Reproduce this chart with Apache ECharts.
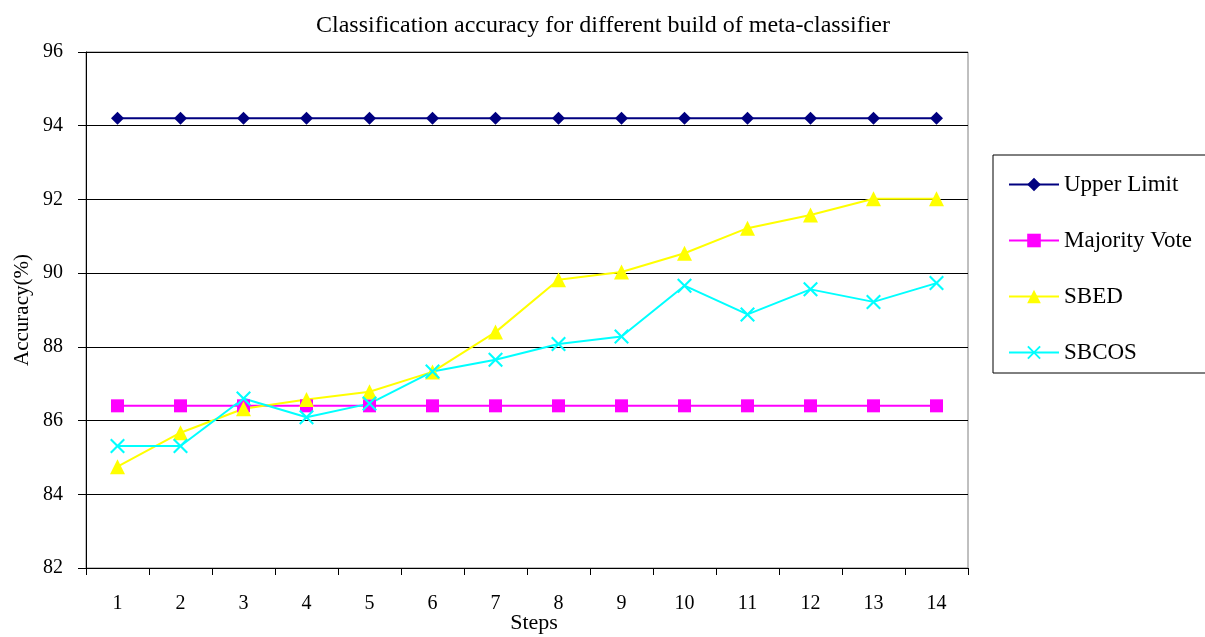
<!DOCTYPE html>
<html><head><meta charset="utf-8">
<script src="https://cdn.jsdelivr.net/npm/echarts@6/dist/echarts.min.js"></script>
<style>html,body{margin:0;padding:0;background:#fff}#c{width:1205px;height:637px}</style>
</head><body><div id="c"></div>
<script>
const steps = ['1','2','3','4','5','6','7','8','9','10','11','12','13','14'];
const upperLimit = [94.2,94.2,94.2,94.2,94.2,94.2,94.2,94.2,94.2,94.2,94.2,94.2,94.2,94.2];
const majorityVote = [86.4,86.4,86.4,86.4,86.4,86.4,86.4,86.4,86.4,86.4,86.4,86.4,86.4,86.4];
const sbed = [84.75,85.67,86.32,86.57,86.78,87.32,88.4,89.82,90.03,90.54,91.22,91.58,92.02,92.02];
const sbcos = [85.31,85.31,86.6,86.09,86.46,87.33,87.65,88.08,88.28,89.66,88.88,89.56,89.22,89.73];

const F = 'Liberation Serif, Times New Roman, serif';
const X_PATH = 'path://M1,0 L5,4 L9,0 L10,1 L6,5 L10,9 L9,10 L5,6 L1,10 L0,9 L4,5 L0,1 Z';
const chart = echarts.init(document.getElementById('c'), null, {renderer:'canvas'});
function mk(name, data, color, symbol, size){
  return {name, type:'line', data, symbol, symbolSize:size, showAllSymbol:true,
    lineStyle:{color, width:2}, itemStyle:{color, borderWidth:0}, animation:false, z: 2};
}
chart.setOption({
  animation:false,
  backgroundColor:'#fff',
  title:[
    {text:'Classification accuracy for different build of meta-classifier', left:598, top:9, textAlign:'center',
      textStyle:{fontFamily:F, fontSize:24, fontWeight:'normal', color:'#000'}},
    {text:'Steps', left:534, top:612, textAlign:'center', padding:0,
      textStyle:{fontFamily:F, fontSize:22, fontWeight:'normal', color:'#000'}}
  ],
  grid:{left:86, top:52, right:237, bottom:69, show:true, borderColor:'#808080', borderWidth:1,
    containLabel:false, outerBoundsMode:'none'},
  legend:{orient:'vertical', left:993, top:155, padding:[18,40,9,15], itemGap:33,
    itemWidth:50, itemHeight:17, borderColor:'#000', borderWidth:1,
    textStyle:{fontFamily:F, fontSize:23, color:'#000'},
    data:['Upper Limit','Majority Vote','SBED','SBCOS']},
  xAxis:{type:'category', data:steps, boundaryGap:true,
    axisLine:{lineStyle:{color:'#000', width:1}},
    axisTick:{show:true, inside:false, length:7, lineStyle:{color:'#000'}},
    axisLabel:{fontFamily:F, fontSize:20, color:'#000', margin:26},
    splitLine:{show:false}},
  yAxis:{type:'value', min:82, max:96, interval:2, name:'Accuracy(%)', nameLocation:'middle', nameGap:53,
    nameMoveOverlap:false,
    nameTextStyle:{fontFamily:F, fontSize:21, color:'#000'},
    axisLine:{show:true, lineStyle:{color:'#000', width:1}},
    axisTick:{show:true, length:8, lineStyle:{color:'#000'}},
    axisLabel:{fontFamily:F, fontSize:20, color:'#000', margin:23},
    splitLine:{show:true, lineStyle:{color:'#000', width:1}}},
  series:[
    mk('Upper Limit', upperLimit, '#000080', 'diamond', 13),
    mk('Majority Vote', majorityVote, '#FF00FF', 'rect', 13),
    mk('SBED', sbed, '#FFFF00', 'triangle', 15),
    mk('SBCOS', sbcos, '#00FFFF', X_PATH, 15)
  ]
});
</script></body></html>
